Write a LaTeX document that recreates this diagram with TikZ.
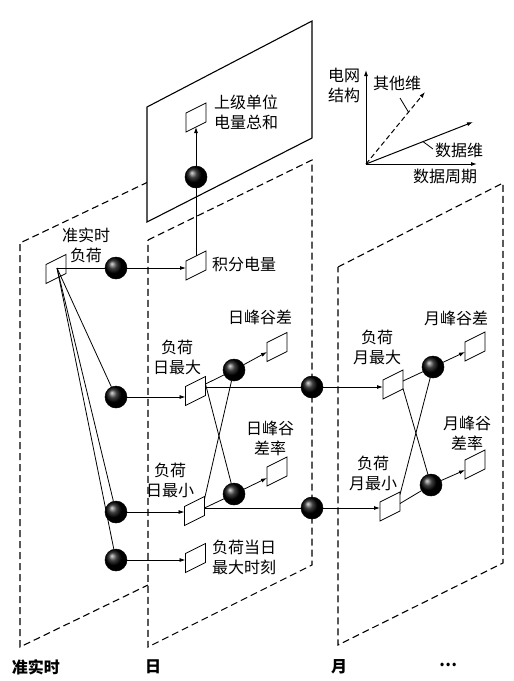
\documentclass[tikz,border=0pt]{standalone}
\usepackage{fontspec}
\newfontfamily\cjk{Noto Sans CJK SC}
\usetikzlibrary{arrows.meta,calc}
\begin{document}
\begin{tikzpicture}[x=1pt,y=-1pt,
  plane/.style={line width=1.1pt, dash pattern=on 7pt off 4pt},
  topplane/.style={line width=1.1pt, fill=white},
  pbox/.style={minimum width=20pt, minimum height=29pt, inner sep=0pt, outer sep=0pt},
  pdraw/.style={line width=0.8pt, fill=white},
  ball/.style={circle, minimum size=22pt, inner sep=0pt, ball color=black, draw=black, line width=0.5pt},
  conn/.style={line width=0.8pt},
  arr/.style={line width=0.8pt, -{Latex[length=6pt,width=4pt]}},
  axis/.style={line width=1pt, -{Latex[length=6pt,width=4pt]}},
  lbl/.style={font=\cjk\fontsize{16}{20}\selectfont, align=center, inner sep=0pt},
  blbl/.style={font=\cjk\bfseries\fontsize{16}{20}\selectfont, inner sep=0pt},
]
\useasboundingbox (0,0) rectangle (514,681);

% ---- planes ----
\draw[plane] (148,182) -- (20,243) -- (20,647) -- (148,585);
\draw[plane] (148,240) -- (312,160) -- (312,565) -- (148,647) -- cycle;
\draw[plane] (338,267) -- (503,183) -- (503,563) -- (338,645) -- cycle;
\draw[topplane] (147,107) -- (312,21) -- (312,138) -- (147,222) -- cycle;

% ---- boxes (positions) ----
\node[pbox] (zs)   at (56,269) {};
\node[pbox] (jf)   at (196,265.5) {};
\node[pbox] (sj)   at (196,117.5) {};
\node[pbox] (dmax) at (195.5,391) {};
\node[pbox] (dpv)  at (277,347) {};
\node[pbox] (dmin) at (194.5,511) {};
\node[pbox] (dpvr) at (277,471.5) {};
\node[pbox] (dtm)  at (195.5,558) {};
\node[pbox] (mmax) at (393,384.5) {};
\node[pbox] (mpv)  at (475,346.5) {};
\node[pbox] (mmin) at (390,506.5) {};
\node[pbox] (mpvr) at (475,464.5) {};
\foreach \n in {zs,jf,sj,dmax,dpv,dmin,dpvr,dtm,mmax,mpv,mmin,mpvr}
  \draw[pdraw] (\n.south west) -- ++(0,19pt) -- (\n.north east) -- ++(0,-19pt) -- cycle;

% ---- balls ----
\node[ball] (tb)   at (196,177) {};
\node[ball] (b1)   at (116,268) {};
\node[ball] (b2)   at (116,397) {};
\node[ball] (b3)   at (116,512) {};
\node[ball] (b4)   at (116,560) {};
\node[ball] (dpvb) at (234,370) {};
\node[ball] (dprb) at (234,494) {};
\node[ball] (bu)   at (312,387) {};
\node[ball] (bl)   at (312,508) {};
\node[ball] (mpvb) at (433,367) {};
\node[ball] (mprb) at (431,485) {};

% ---- labels ----
\node[lbl] (Lzs) at (86,245) {准实时\\负荷};
\node[lbl, anchor=west] (Ljf) at (212,264) {积分电量};
\node[lbl, anchor=west, align=left] (Lsj) at (214,112) {上级单位\\电量总和};
\node[lbl] (Ldpv) at (260,317) {日峰谷差};
\node[lbl] (Ldmax) at (177,357) {负荷\\日最大};
\node[lbl] (Ldpvr) at (270,438) {日峰谷\\差率};
\node[lbl] (Ldmin) at (170,480) {负荷\\日最小};
\node[lbl, anchor=west, align=left] (Ldtm) at (212,557) {负荷当日\\最大时刻};
\node[lbl] (Lmpv) at (456,318) {月峰谷差};
\node[lbl] (Lmmax) at (377,347) {负荷\\月最大};
\node[lbl] (Lmpvr) at (467,433) {月峰谷\\差率};
\node[lbl] (Lmmin) at (373,473) {负荷\\月最小};

\node[blbl] (B1) at (36,667) {准实时};
\node[blbl] (B2) at (153,667) {日};
\node[blbl] (B3) at (339,667) {月};
\node[blbl] (B4) at (448,665) {…};

% ---- connectors ----
\coordinate (o) at (57,268);
\draw[conn] (o) -- (b1);
\draw[conn] (o) -- (b2);
\draw[conn] (o) -- (b3);
\draw[conn] (o) -- (b4);
\draw[arr] (b1) -- (b1 -| jf.west);
\draw[arr] (b2) -- (b2 -| dmax.west);
\draw[arr] (b3) -- (b3 -| dmin.west);
\draw[arr] (b4) -- (b4 -| dtm.west);

\draw[conn] ([yshift=9.5pt]jf.center) -- (tb);
\draw[arr] (tb) -- ([yshift=-9.5pt]sj.center);

% day level
\draw[conn] ([yshift=7pt]dmax.east) -- (dpvb);
\draw[conn] ([yshift=7pt]dmax.east) -- (dprb);
\draw[conn] (dmax.east |- bu) -- (bu);
\draw[conn] ([yshift=12pt]dmin.east) -- (dpvb);
\draw[conn] (dmin.east |- bl) -- (dprb);
\draw[conn] (dmin.east |- bl) -- (bl);
\draw[arr] (dpvb) -- ([yshift=-5pt]dpv.west);
\draw[arr] (dprb) -- ([yshift=-6.5pt]dpvr.west);

% month level
\draw[arr] (bu) -- (bu -| mmax.west);
\draw[arr] (bl) -- (bl -| mmin.west);
\draw[conn] ([yshift=3.5pt]mmax.east) -- (mpvb);
\draw[conn] ([yshift=-4pt]mmax.east) -- (mprb);
\draw[conn] ([yshift=12pt]mmin.east) -- (mpvb);
\draw[conn] ([yshift=3pt]mmin.east) -- (mprb);
\draw[arr] (mpvb) -- ([yshift=-5.5pt]mpv.west);
\draw[arr] (mprb) -- ([yshift=-5.5pt]mpvr.west);

% ---- axes ----
\coordinate (ax0) at (366,164);
\coordinate (axy) at (366,70);
\coordinate (axx) at (477,164);
\coordinate (axs) at (473,122);
\coordinate (axd) at (425,92);
\draw[axis] (ax0) -- (axy);
\draw[axis] (ax0) -- (axx);
\draw[axis] (ax0) -- (axs);
\draw[axis, dash pattern=on 5pt off 3pt] (ax0) -- (axd);
\node[lbl] (Lgrid) at (344,85) {电网\\结构};
\node[lbl] (Lother) at (397,83) {其他维};
\node[lbl, anchor=west] (Ldata) at (435,150) {数据维};
\node[lbl] (Lper) at (445,176) {数据周期};
\coordinate (ldo) at ($(ax0)!0.72!(axd)$);
\coordinate (lds) at ($(ax0)!0.533!(axs)$);
\draw[conn] (400,98) -- (ldo);
\draw[conn] (lds) -- (433,149);
\end{tikzpicture}
\end{document}
